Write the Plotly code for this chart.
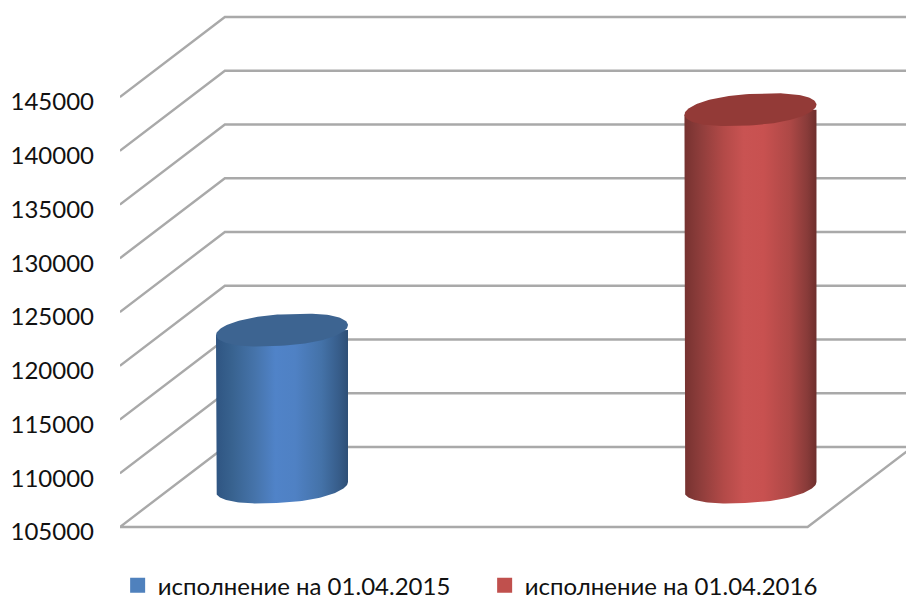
import numpy as np
import plotly.graph_objects as go

# Data
categories = ["исполнение на 01.04.2015", "исполнение на 01.04.2016"]
values = [119600, 140100]
tick_values = [105000, 110000, 115000, 120000, 125000, 130000, 135000, 140000, 145000]
base_value = 105000

body_scales = [
    [[0, "#2f5582"], [0.12, "#38628f"], [0.3, "#4674ab"], [0.45, "#5083c8"], [0.6, "#4f81c4"], [0.8, "#4472a8"], [0.93, "#375d8a"], [1, "#2e4f76"]],
    [[0, "#763230"], [0.12, "#8e3d3b"], [0.3, "#b34a48"], [0.45, "#c95352"], [0.6, "#c85150"], [0.8, "#ad4846"], [0.93, "#883b39"], [1, "#6e2f2d"]],
]
top_colors = ["#3d6491", "#933a37"]
legend_colors = ["#4f81bd", "#c0504d"]

# Oblique projection constants (axis units)
DX, DY = 0.2241, 7442
FLOOR_L, FLOOR_R = -0.2340, 1.2340
A, B, S = 0.1409, 1460, 465
GRID = "#a9a9a9"
FONT = "Lato"


def proj(x, v, d):
    """Oblique projection: d=0 front plane, d=1 back wall."""
    return x + (d - 0.5) * DX, v + d * DY


def rim(t):
    """Slightly blunted ellipse rim of a cylinder, as offsets from its centre."""
    c = np.sign(np.cos(t)) * np.abs(np.cos(t)) ** 0.88
    return A * c, -B * np.sin(t) + S * np.cos(t)


fig = go.Figure()

# walls
for i, t in enumerate(tick_values):
    pts = [proj(FLOOR_L, t, 0), proj(FLOOR_L, t, 1), proj(FLOOR_R, t, 1)]
    if i == 0:
        pts = [proj(FLOOR_R, t, 1), proj(FLOOR_R, t, 0), proj(FLOOR_L, t, 0)] + pts[1:]
    fig.add_trace(go.Scatter(x=[p[0] for p in pts], y=[p[1] for p in pts], mode="lines",
                             line=dict(color=GRID, width=2.4), showlegend=False, hoverinfo="skip"))

# cylinders
for i, v in enumerate(values):
    cx, cy_base = proj(i, base_value, 0.5)
    _, cy_top = proj(i, v, 0.5)
    dxb, dyb = rim(np.linspace(np.pi, 0, 80))
    xs = np.concatenate([[cx - A], cx + dxb, [cx + A, cx + A, cx - A]])
    ys = np.concatenate([[cy_top - S], cy_base + dyb, [cy_top + S, cy_top, cy_top - S]])
    fig.add_trace(go.Scatter(x=xs, y=ys, mode="lines", fill="toself", line=dict(width=0),
                             fillgradient=dict(type="horizontal", colorscale=body_scales[i]),
                             showlegend=False, hoverinfo="skip"))
    dxt, dyt = rim(np.linspace(0, 2 * np.pi, 160))
    fig.add_trace(go.Scatter(x=cx + dxt, y=cy_top + dyt,
                             mode="lines", fill="toself", fillcolor=top_colors[i], line=dict(width=0),
                             showlegend=False, hoverinfo="skip"))

# legend entries
for name, col in zip(categories, legend_colors):
    fig.add_trace(go.Scatter(x=[None], y=[None], mode="markers", name=name,
                             marker=dict(symbol="square", size=15, color=col)))

W, H = 906, 598
ML, PB = 120, 560
PX_PER_VAL = 53.75 / 5000
fig.update_layout(
    width=W, height=H,
    margin=dict(l=ML, r=0, t=0, b=H - PB, autoexpand=False),
    paper_bgcolor="white", plot_bgcolor="white",
    font=dict(family=FONT, color="#111111", size=22),
    xaxis=dict(visible=False, range=[-0.3458, 1.332], fixedrange=True),
    yaxis=dict(range=[105000 - 33 / PX_PER_VAL, 105000 + 527 / PX_PER_VAL],
               tickmode="array", tickvals=tick_values, ticktext=[str(t) for t in tick_values],
               showgrid=False, zeroline=False, showline=False, ticks="", fixedrange=True,
               ticklabelstandoff=25, ticklabelshift=5, tickfont=dict(size=24, family=FONT, color="#111111")),
    legend=dict(orientation="h", x=-0.003, y=-0.046, xanchor="left", yanchor="middle",
                entrywidth=322, entrywidthmode="pixels", itemwidth=30,
                font=dict(size=24, family=FONT, color="#111111"), bgcolor="rgba(0,0,0,0)"),
    showlegend=True,
)
fig.write_html("out.html", config=dict(displayModeBar=False),
               post_script="document.body.style.margin='0';document.documentElement.style.overflow='hidden';")
